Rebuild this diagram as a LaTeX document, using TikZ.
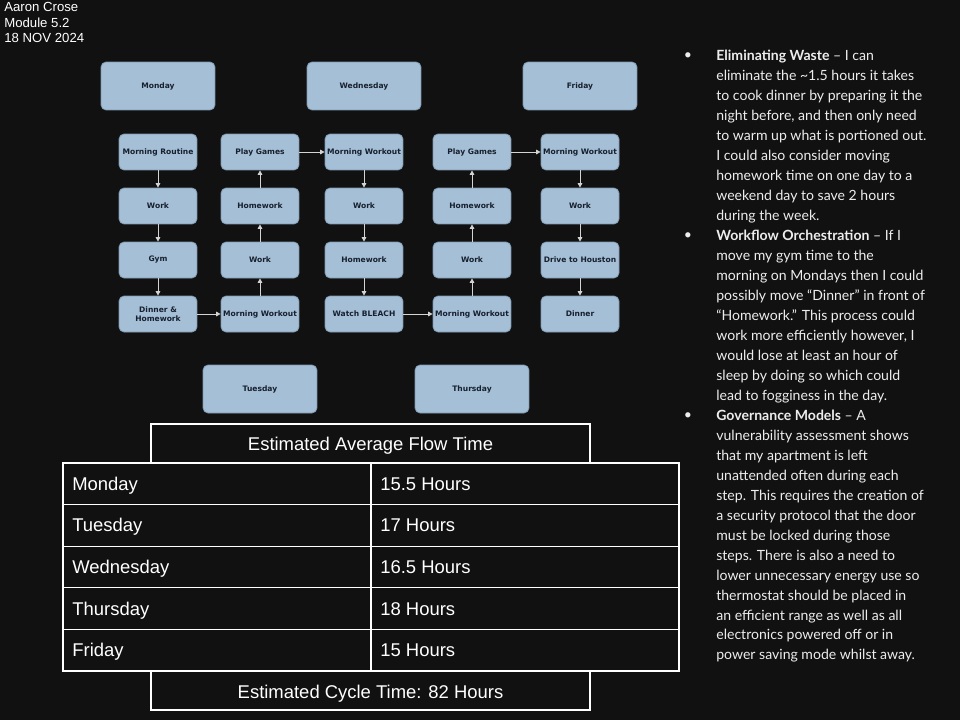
\documentclass[tikz,border=0pt]{standalone}
\usepackage{fontspec}
\setmainfont{Liberation Sans}
\newfontfamily\boxfont{DejaVu Sans}
\newfontfamily\notefont{Lato}
\usepackage{xcolor}
\usetikzlibrary{arrows.meta}

\definecolor{bg}{HTML}{111111}
\definecolor{boxfill}{HTML}{A5BFD6}
\definecolor{boxline}{HTML}{7F98AF}
\definecolor{boxtext}{HTML}{17202E}
\definecolor{arrowcol}{HTML}{D4D4D4}
\definecolor{notecol}{HTML}{EDEDED}

\begin{document}
\begin{tikzpicture}[x=0.02cm,y=-0.02cm,
  stepbox/.style={draw=boxline,fill=boxfill,rounded corners=0.1cm,
    minimum width=1.56cm,minimum height=0.72cm,inner sep=0pt,text=boxtext,
    font=\boxfont\bfseries\fontsize{4.3}{5.3}\selectfont,align=center},
  daybox/.style={stepbox,minimum width=2.28cm,minimum height=0.96cm},
  flow/.style={draw=arrowcol,line width=0.5pt,-{Triangle[length=2.6pt,width=2.6pt]}},
  rule/.style={draw=white,line width=0.6pt},
  cell/.style={anchor=west,inner sep=0pt,text height=7.5pt,text depth=0pt,
    text=white,font=\fontsize{10.5}{12}\selectfont},
  note/.style={anchor=north west,inner sep=0pt,text=notecol,align=left,
    font=\notefont\fontsize{8}{11.34}\selectfont},
  dot/.style={inner sep=0pt,text=notecol,font=\notefont\fontsize{8}{10}\selectfont}]
  \fill[bg] (0,0) rectangle (960,720);
  \useasboundingbox (0,0) rectangle (960,720);

  \node (hd) [anchor=north west,inner sep=0pt,align=left,text=white,
    font=\fontsize{7.5}{8.8}\selectfont] at (4,2) {Aaron Crose\\Module 5.2\\18 NOV 2024};

  \node (mo) [daybox] at (158,86) {Monday};
  \node (we) [daybox] at (364,86) {Wednesday};
  \node (fr) [daybox] at (580,86) {Friday};
  \node (tu) [daybox] at (260,389) {Tuesday};
  \node (th) [daybox] at (472,389) {Thursday};

  \draw (158,152)
    node (mr) [stepbox] {Morning Routine} ++(0,54)
    node (mk) [stepbox] {Work} ++(0,54)
    node (mg) [stepbox] {Gym} ++(0,54)
    node (md) [stepbox] {Dinner \&\\Homework}
    ;
  \draw (260,314)
    node (tw) [stepbox] {Morning Workout} ++(0,-54)
    node (tk) [stepbox] {Work} ++(0,-54)
    node (th2) [stepbox] {Homework} ++(0,-54)
    node (tg) [stepbox] {Play Games}
    ;
  \draw (364,152)
    node (ww) [stepbox] {Morning Workout} ++(0,54)
    node (wk) [stepbox] {Work} ++(0,54)
    node (wh) [stepbox] {Homework} ++(0,54)
    node (wb) [stepbox] {Watch BLEACH}
    ;
  \draw (472,314)
    node (hw) [stepbox] {Morning Workout} ++(0,-54)
    node (hk) [stepbox] {Work} ++(0,-54)
    node (hh) [stepbox] {Homework} ++(0,-54)
    node (hg) [stepbox] {Play Games}
    ;
  \draw (580,152)
    node (fw) [stepbox] {Morning Workout} ++(0,54)
    node (fk) [stepbox] {Work} ++(0,54)
    node (fd) [stepbox] {Drive to Houston} ++(0,54)
    node (fn) [stepbox] {Dinner}
    ;

  \draw[flow] (mr) -- (mk);
  \draw[flow] (mk) -- (mg);
  \draw[flow] (mg) -- (md);
  \draw[flow] (md) -- (tw);
  \draw[flow] (tw) -- (tk);
  \draw[flow] (tk) -- (th2);
  \draw[flow] (th2) -- (tg);
  \draw[flow] (tg) -- (ww);
  \draw[flow] (ww) -- (wk);
  \draw[flow] (wk) -- (wh);
  \draw[flow] (wh) -- (wb);
  \draw[flow] (wb) -- (hw);
  \draw[flow] (hw) -- (hk);
  \draw[flow] (hk) -- (hh);
  \draw[flow] (hh) -- (hg);
  \draw[flow] (hg) -- (fw);
  \draw[flow] (fw) -- (fk);
  \draw[flow] (fk) -- (fd);
  \draw[flow] (fd) -- (fn);

  \draw[rule] (151,424) rectangle (590,463);
  \node (ft) [cell,anchor=center] at (370.5,444) {Estimated Average Flow Time};
  \draw[rule] (63,463) rectangle (679,671);
  \foreach \y in {504.6,546.2,587.8,629.4}
    \draw[rule] (63,\y) -- (679,\y);
  \draw[rule] (371,463) -- (371,671);
  \foreach \day/\hrs [count=\i] in {Monday/15.5,Tuesday/17,Wednesday/16.5,Thursday/18,Friday/15} {
    \node (d\i) [cell] at (72,{442.2+41.6*\i}) {\day};
    \node (h\i) [cell] at (380,{442.2+41.6*\i}) {\hrs\ Hours};
  }
  \draw[rule] (151,671) rectangle (590,710);
  \node (ct) [cell,anchor=center] at (370.5,692) {Estimated Cycle Time: 82 Hours};

  \node (b1) [dot] at (688,56) {\textbullet};
  \node (n1) [note] at (716,50) {\textbf{Eliminating Waste} – I can\\
    eliminate the \textasciitilde1.5 hours it takes\\
    to cook dinner by preparing it the\\
    night before, and then only need\\
    to warm up what is portioned out.\\
    I could also consider moving\\
    homework time on one day to a\\
    weekend day to save 2 hours\\
    during the week.};
  \node (b2) [dot] at (688,236) {\textbullet};
  \node (n2) [note] at (716,230) {\textbf{Workflow Orchestration} – If I\\
    move my gym time to the\\
    morning on Mondays then I could\\
    possibly move “Dinner” in front of\\
    “Homework.” This process could\\
    work more efficiently however, I\\
    would lose at least an hour of\\
    sleep by doing so which could\\
    lead to fogginess in the day.};
  \node (b3) [dot] at (688,416) {\textbullet};
  \node (n3) [note] at (716,410) {\textbf{Governance Models} – A\\
    vulnerability assessment shows\\
    that my apartment is left\\
    unattended often during each\\
    step. This requires the creation of\\
    a security protocol that the door\\
    must be locked during those\\
    steps. There is also a need to\\
    lower unnecessary energy use so\\
    thermostat should be placed in\\
    an efficient range as well as all\\
    electronics powered off or in\\
    power saving mode whilst away.};
\end{tikzpicture}
\end{document}
